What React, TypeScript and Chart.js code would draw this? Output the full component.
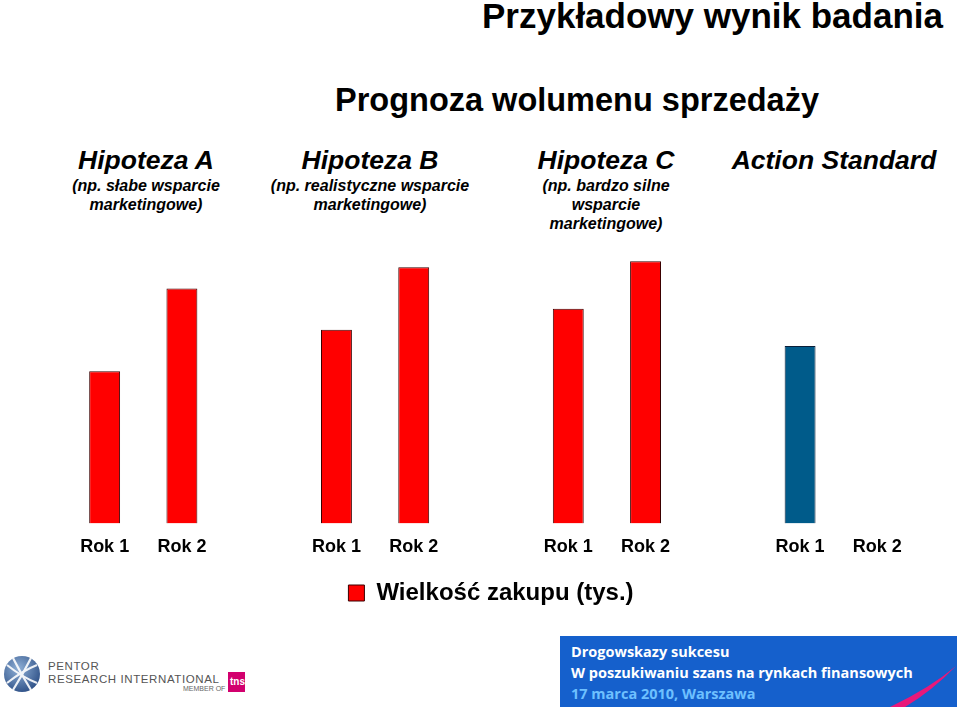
import React, { useEffect, useRef } from "react";
import { Chart, registerables } from "chart.js";

Chart.register(...registerables);

const categories = ["Rok 1", "Rok 2", "", "Rok 1", "Rok 2", "", "Rok 1", "Rok 2", "", "Rok 1", "Rok 2"];
const volumes = [151, 233, null, 192, 254, null, 213, 260, null, 176, null];
const barColors = ["#ff0000", "#ff0000", "#ff0000", "#ff0000", "#ff0000", "#ff0000", "#ff0000", "#ff0000", "#ff0000", "#005b8a", "#ff0000"];
const barBorders = ["#3a0000", "#3a0000", "#3a0000", "#3a0000", "#3a0000", "#3a0000", "#3a0000", "#3a0000", "#3a0000", "#0a1f3a", "#3a0000"];
const legendLabel = "Wielkość zakupu (tys.)";
const mainTitle = "Przykładowy wynik badania";
const subTitle = "Prognoza wolumenu sprzedaży";
const groupTitles = ["Hipoteza A", "Hipoteza B", "Hipoteza C", "Action Standard"];
const groupNotes = [
  ["(np. słabe wsparcie", "marketingowe)"],
  ["(np. realistyczne wsparcie", "marketingowe)"],
  ["(np. bardzo silne", "wsparcie", "marketingowe)"],
  [],
];
const groupCenters = [146, 370, 606, 834];
const footerLines = ["Drogowskazy sukcesu", "W poszukiwaniu szans na rynkach finansowych", "17 marca 2010, Warszawa"];

const FONT = "'Liberation Sans', Arial, sans-serif";

function BarChart() {
  const ref = useRef<HTMLCanvasElement | null>(null);
  useEffect(() => {
    if (!ref.current) return;
    const chart = new Chart(ref.current, {
      type: "bar",
      data: {
        labels: categories,
        datasets: [
          {
            label: legendLabel,
            data: volumes,
            backgroundColor: barColors,
            borderColor: barBorders,
            borderWidth: 1,
            barPercentage: 0.4,
            categoryPercentage: 1,
          },
        ],
      },
      options: {
        animation: false,
        responsive: true,
        maintainAspectRatio: false,
        layout: { padding: { left: 66, right: 44, top: 6, bottom: 0 } },
        plugins: {
          tooltip: { enabled: false },
          legend: {
            display: true,
            position: "bottom",
            labels: {
              color: "#000",
              font: { family: FONT, size: 24, weight: "bold" },
              boxWidth: 16,
              boxHeight: 16,
              padding: 10,
              generateLabels: () => [
                {
                  text: legendLabel,
                  fillStyle: "#ff0000",
                  strokeStyle: "#3a0000",
                  lineWidth: 1,
                  hidden: false,
                  datasetIndex: 0,
                },
              ],
            },
          },
        },
        scales: {
          x: {
            grid: { display: false, drawTicks: false },
            border: { display: false },
            ticks: {
              color: "#000",
              font: { family: FONT, size: 18, weight: "bold" },
              autoSkip: false,
              maxRotation: 0,
              padding: 13,
            },
          },
          y: {
            display: false,
            min: 0,
            max: 300,
          },
        },
      },
    });
    return () => chart.destroy();
  }, []);
  return <canvas ref={ref} />;
}

function PentorLogo() {
  return (
    <div style={{ position: "absolute", left: 0, top: 650, width: 260, height: 48 }}>
      <svg width="42" height="42" viewBox="0 0 42 42" style={{ position: "absolute", left: 1, top: 3 }}>
        <defs>
          <radialGradient id="gl" cx="40%" cy="35%" r="70%">
            <stop offset="0%" stopColor="#8fb0d6" />
            <stop offset="100%" stopColor="#2d4f86" />
          </radialGradient>
        </defs>
        <circle cx="21" cy="21" r="18" fill="url(#gl)" />
        <g stroke="#ffffff" strokeWidth="2.2" fill="none" opacity="0.9">
          <path d="M6 12 Q21 24 36 30" />
          <path d="M6 30 Q21 18 36 12" />
          <path d="M12 5 Q20 21 30 37" />
          <path d="M30 5 Q22 21 12 37" />
        </g>
      </svg>
      <div style={{ position: "absolute", left: 48, top: 10, fontFamily: FONT, fontSize: 11.5, color: "#555", letterSpacing: 0.6, lineHeight: "13px", whiteSpace: "nowrap" }}>
        <div>PENTOR</div>
        <div>RESEARCH INTERNATIONAL</div>
      </div>
      <div style={{ position: "absolute", left: 183, top: 35, fontFamily: FONT, fontSize: 7, color: "#666", whiteSpace: "nowrap" }}>MEMBER OF</div>
      <div style={{ position: "absolute", left: 228, top: 22, width: 17, height: 20, background: "#d2006e", color: "#fff", fontFamily: FONT, fontSize: 10, fontWeight: "bold", lineHeight: "20px", textAlign: "right", overflow: "hidden" }}>tns</div>
    </div>
  );
}

function FooterBox() {
  return (
    <div style={{ position: "absolute", left: 560, top: 636, width: 397, height: 71, background: "#1560cc", overflow: "hidden" }}>
      <svg width="397" height="71" style={{ position: "absolute", left: 0, top: 0 }}>
        <path d="M330 71 Q370 52 396 30 Q372 55 345 71 Z" fill="#e8187a" />
      </svg>
      <div style={{ position: "absolute", left: 11, top: 5, fontFamily: "'Open Sans', sans-serif", fontWeight: 700, fontSize: 14.5, lineHeight: "21px", color: "#fff", whiteSpace: "nowrap" }}>
        <div>{footerLines[0]}</div>
        <div>{footerLines[1]}</div>
        <div style={{ color: "#6ec0ff" }}>{footerLines[2]}</div>
      </div>
    </div>
  );
}

export default function App() {
  return (
    <div style={{ position: "absolute", left: 0, top: 0, width: 960, height: 708, background: "#fff", overflow: "hidden" }}>
      <div style={{ position: "absolute", right: 17, top: -4, fontFamily: FONT, fontWeight: "bold", fontSize: 35, lineHeight: "40px", color: "#000", whiteSpace: "nowrap" }}>
        {mainTitle}
      </div>
      <div style={{ position: "absolute", left: 277, width: 600, top: 82, textAlign: "center", fontFamily: FONT, fontWeight: "bold", fontSize: 32.5, lineHeight: "36px", color: "#000", whiteSpace: "nowrap" }}>
        {subTitle}
      </div>
      {groupTitles.map((t, i) => (
        <div key={t} style={{ position: "absolute", left: groupCenters[i] - 150, width: 300, top: 144, textAlign: "center", fontFamily: FONT, fontStyle: "italic", fontWeight: "bold", color: "#000" }}>
          <div style={{ fontSize: 26.5, lineHeight: "32px" }}>{t}</div>
          {groupNotes[i].map((n) => (
            <div key={n} style={{ fontSize: 16, lineHeight: "19px" }}>{n}</div>
          ))}
        </div>
      ))}
      <div style={{ position: "absolute", left: 0, top: 215, width: 960, height: 400 }}>
        <BarChart />
      </div>
      <PentorLogo />
      <FooterBox />
    </div>
  );
}
